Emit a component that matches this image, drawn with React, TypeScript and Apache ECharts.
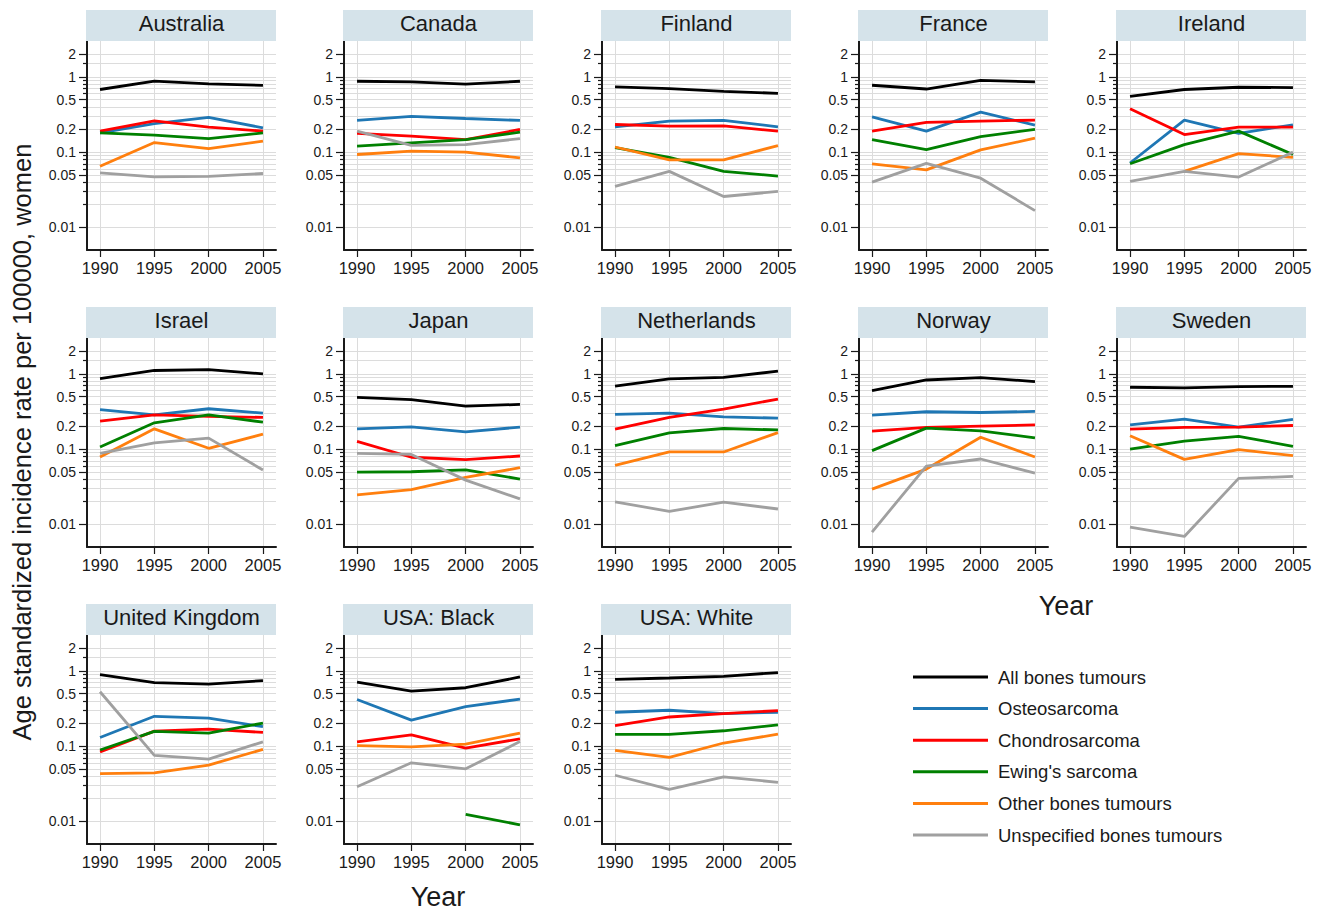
import React, { useEffect, useRef } from "react";
import * as echarts from "echarts";

const years = [1990, 1995, 2000, 2005];
const countries = [
  "Australia", "Canada", "Finland", "France", "Ireland",
  "Israel", "Japan", "Netherlands", "Norway", "Sweden",
  "United Kingdom", "USA: Black", "USA: White",
];
const seriesNames = [
  "All bones tumours", "Osteosarcoma", "Chondrosarcoma",
  "Ewing's sarcoma", "Other bones tumours", "Unspecified bones tumours",
];
const seriesColors = ["#000000", "#1f77b4", "#ff0000", "#008000", "#ff7f0e", "#a0a0a0"];

// rows follow the order of `countries`, columns follow `years`
const allBones = [
  [0.68, 0.88, 0.81, 0.77],
  [0.875, 0.86, 0.8, 0.875],
  [0.735, 0.7, 0.643, 0.605],
  [0.774, 0.69, 0.9, 0.857],
  [0.552, 0.68, 0.728, 0.72],
  [0.867, 1.11, 1.14, 1.0],
  [0.488, 0.454, 0.373, 0.393],
  [0.69, 0.857, 0.9, 1.086],
  [0.599, 0.83, 0.893, 0.79],
  [0.664, 0.65, 0.677, 0.684],
  [0.893, 0.697, 0.669, 0.742],
  [0.711, 0.539, 0.597, 0.83],
  [0.773, 0.805, 0.848, 0.95],
];
const osteosarcoma = [
  [0.18, 0.24, 0.29, 0.21],
  [0.264, 0.298, 0.28, 0.264],
  [0.217, 0.258, 0.264, 0.217],
  [0.295, 0.19, 0.34, 0.228],
  [0.0717, 0.266, 0.177, 0.231],
  [0.334, 0.286, 0.344, 0.301],
  [0.186, 0.198, 0.17, 0.196],
  [0.289, 0.301, 0.269, 0.258],
  [0.283, 0.314, 0.307, 0.317],
  [0.21, 0.25, 0.196, 0.248],
  [0.13, 0.249, 0.236, 0.181],
  [0.417, 0.222, 0.336, 0.421],
  [0.282, 0.3, 0.27, 0.282],
];
const chondrosarcoma = [
  [0.19, 0.26, 0.215, 0.19],
  [0.177, 0.163, 0.147, 0.2],
  [0.233, 0.221, 0.223, 0.19],
  [0.19, 0.248, 0.258, 0.266],
  [0.377, 0.171, 0.215, 0.215],
  [0.235, 0.286, 0.272, 0.264],
  [0.127, 0.078, 0.0724, 0.081],
  [0.184, 0.264, 0.34, 0.463],
  [0.173, 0.194, 0.202, 0.21],
  [0.184, 0.194, 0.196, 0.206],
  [0.0835, 0.158, 0.168, 0.152],
  [0.114, 0.141, 0.094, 0.125],
  [0.187, 0.244, 0.27, 0.297],
];
const ewingSarcoma = [
  [0.18, 0.168, 0.151, 0.18],
  [0.12, 0.133, 0.147, 0.184],
  [0.115, 0.085, 0.0555, 0.048],
  [0.147, 0.108, 0.161, 0.2],
  [0.07, 0.126, 0.19, 0.093],
  [0.107, 0.224, 0.286, 0.228],
  [0.0495, 0.05, 0.053, 0.04],
  [0.111, 0.164, 0.188, 0.18],
  [0.0955, 0.19, 0.175, 0.141],
  [0.1, 0.128, 0.148, 0.109],
  [0.0889, 0.157, 0.149, 0.202],
  [null, null, 0.0124, 0.009],
  [0.143, 0.143, 0.16, 0.192],
];
const otherBones = [
  [0.065, 0.134, 0.111, 0.14],
  [0.093, 0.103, 0.1, 0.084],
  [0.117, 0.079, 0.079, 0.122],
  [0.07, 0.058, 0.107, 0.153],
  [null, 0.0555, 0.0955, 0.085],
  [0.0786, 0.186, 0.1026, 0.158],
  [0.0247, 0.029, 0.042, 0.0566],
  [0.0608, 0.0917, 0.0917, 0.166],
  [0.0294, 0.0543, 0.144, 0.0785],
  [0.151, 0.073, 0.0985, 0.082],
  [0.0432, 0.0441, 0.0559, 0.0906],
  [0.1016, 0.0975, 0.106, 0.149],
  [0.0879, 0.0708, 0.11, 0.144],
];
const unspecifiedBones = [
  [0.053, 0.047, 0.0475, 0.052],
  [0.19, 0.123, 0.126, 0.151],
  [0.035, 0.0555, 0.0257, 0.03],
  [0.04, 0.071, 0.045, 0.0167],
  [0.0408, 0.0555, 0.0466, 0.1],
  [0.088, 0.121, 0.14, 0.0527],
  [0.088, 0.085, 0.0387, 0.0218],
  [0.0199, 0.0149, 0.0197, 0.016],
  [0.0079, 0.0596, 0.0739, 0.048],
  [0.0092, 0.0069, 0.0408, 0.0433],
  [0.528, 0.0753, 0.0673, 0.114],
  [0.0289, 0.06, 0.0499, 0.115],
  [0.041, 0.0266, 0.039, 0.033],
];
const seriesTables = [allBones, osteosarcoma, chondrosarcoma, ewingSarcoma, otherBones, unspecifiedBones];

const majorTicks = [0.01, 0.05, 0.1, 0.2, 0.5, 1, 2];
const minorTicks = [0.02, 0.03, 0.04, 0.06, 0.07, 0.08, 0.09, 0.3, 0.4, 0.6, 0.7, 0.8, 0.9, 1.5];

const yTitle = "Age standardized incidence rate per 100000, women";
const xTitle = "Year";

const FONT = '"Liberation Sans", Arial, sans-serif';
const INK = "#1a1a1a";
const GRID_C = "#dcdcdc";

const colLeft = [87, 344, 602, 859, 1117];
const rowTop = [41, 338, 635];
const plotW = 189;
const plotH = 209;
const stripH = 31;

export default function App() {
  const ref = useRef<HTMLDivElement>(null);

  useEffect(() => {
    document.body.style.margin = "0";
    if (!ref.current) return;
    const chart = echarts.init(ref.current, undefined, { renderer: "svg" });

    const grids: any[] = [];
    const xAxes: any[] = [];
    const yAxes: any[] = [];
    const series: any[] = [];
    const graphics: any[] = [];

    countries.forEach((name, i) => {
      const left = colLeft[i % 5];
      const top = rowTop[Math.floor(i / 5)];
      grids.push({ left, top, width: plotW, height: plotH });
      xAxes.push({
        gridIndex: i,
        type: "value",
        min: 1988.8,
        max: 2006.2,
        axisLine: { show: true, onZero: false, lineStyle: { color: INK, width: 2 } },
        axisTick: { show: true, customValues: years, length: 7, lineStyle: { color: INK, width: 1.2 } },
        axisLabel: {
          customValues: years,
          formatter: (v: number) => String(v),
          fontSize: 16.5,
          color: INK,
          margin: 9,
          fontFamily: FONT,
        },
        splitLine: { show: true, lineStyle: { color: GRID_C, width: 1 } },
      });
      yAxes.push({
        gridIndex: i,
        type: "log",
        logBase: 10,
        min: 0.005,
        max: 3,
        position: "left",
        axisLine: { show: true, onZero: false, lineStyle: { color: INK, width: 2 } },
        axisTick: { show: true, customValues: majorTicks, length: 8, lineStyle: { color: INK, width: 1.2 } },
        axisLabel: {
          customValues: majorTicks,
          formatter: (v: number) => String(v),
          fontSize: 14,
          color: INK,
          margin: 11,
          fontFamily: FONT,
        },
        splitLine: { show: true, lineStyle: { color: GRID_C, width: 1 } },
      });
      yAxes.push({
        gridIndex: i,
        type: "log",
        logBase: 10,
        min: 0.005,
        max: 3,
        position: "left",
        axisLine: { show: false },
        axisTick: { show: true, customValues: minorTicks, length: 4, lineStyle: { color: INK, width: 1.2 } },
        axisLabel: { show: false },
        splitLine: { show: true, lineStyle: { color: GRID_C, width: 1 } },
      });

      seriesTables.forEach((table, k) => {
        const row = table[i];
        const data = years
          .map((yr, j) => [yr, row[j]])
          .filter((p) => p[1] !== null && p[1] !== undefined);
        series.push({
          name: seriesNames[k],
          type: "line",
          xAxisIndex: i,
          yAxisIndex: 2 * i,
          data,
          symbol: "none",
          showSymbol: false,
          lineStyle: { color: seriesColors[k], width: 2.8 },
          itemStyle: { color: seriesColors[k] },
          z: 3 + k * 0.01,
        });
      });

      graphics.push({
        type: "rect",
        shape: { x: left - 1, y: top - stripH, width: plotW + 1, height: stripH },
        style: { fill: "#d5e3ea" },
        z: 10,
      });
      graphics.push({
        type: "text",
        x: left + plotW / 2,
        y: top - stripH / 2 - 2,
        style: {
          text: name,
          font: `22px ${FONT}`,
          fill: INK,
          align: "center",
          verticalAlign: "middle",
        },
        z: 11,
      });
    });

    graphics.push({
      type: "text",
      x: 22,
      y: 442,
      rotation: Math.PI / 2,
      style: {
        text: yTitle,
        font: `25.5px ${FONT}`,
        fill: INK,
        align: "center",
        verticalAlign: "middle",
      },
    });
    graphics.push({
      type: "text",
      x: 1066,
      y: 606,
      style: { text: xTitle, font: `27px ${FONT}`, fill: INK, align: "center", verticalAlign: "middle" },
    });
    graphics.push({
      type: "text",
      x: 438,
      y: 897,
      style: { text: xTitle, font: `27px ${FONT}`, fill: INK, align: "center", verticalAlign: "middle" },
    });

    chart.setOption({
      animation: false,
      backgroundColor: "#ffffff",
      textStyle: { fontFamily: FONT },
      grid: grids,
      xAxis: xAxes,
      yAxis: yAxes,
      series,
      legend: {
        data: seriesNames,
        orient: "vertical",
        left: 913,
        top: 667,
        padding: 0,
        icon: "rect",
        itemWidth: 75,
        itemHeight: 3,
        itemGap: 11.6,
        selectedMode: false,
        textStyle: { fontSize: 18.5, lineHeight: 20, color: INK, fontFamily: FONT, padding: [0, 0, 0, 5] },
      },
      graphic: graphics,
    });

    return () => chart.dispose();
  }, []);

  return <div ref={ref} style={{ width: 1323, height: 912 }} />;
}
